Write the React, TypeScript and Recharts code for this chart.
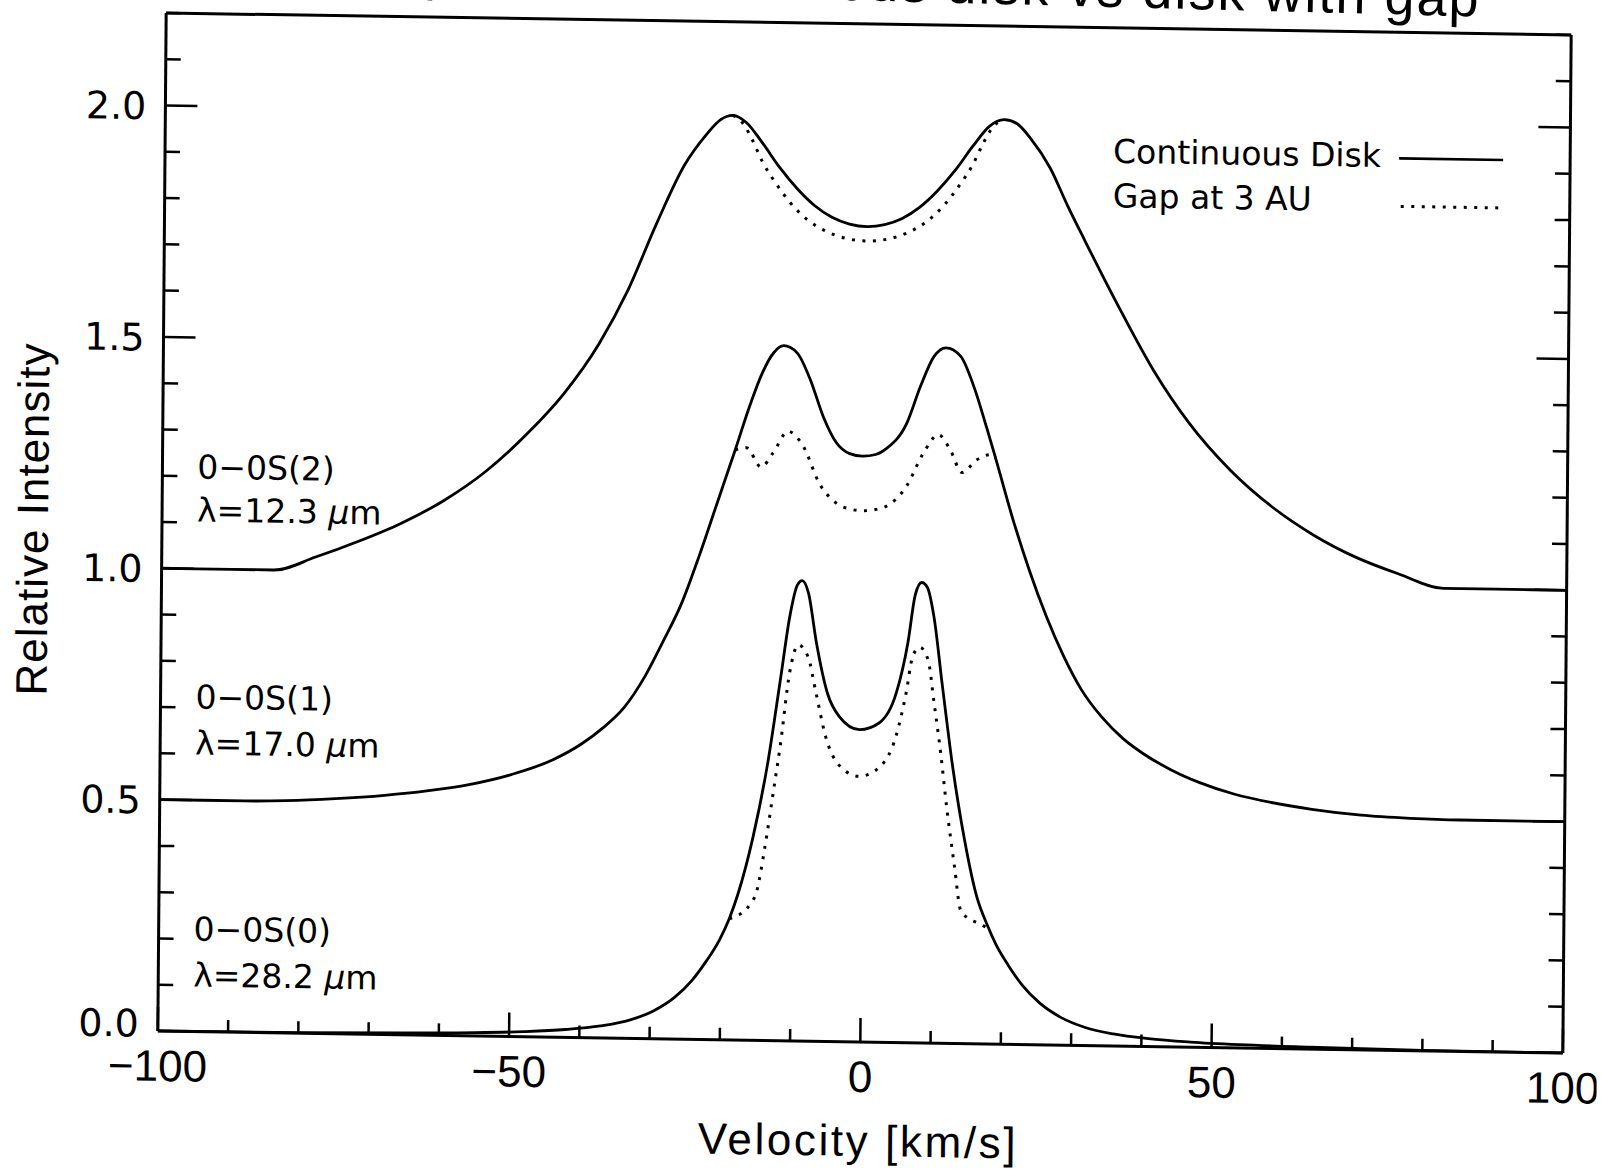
import React from "react";
import { LineChart, Line, XAxis, YAxis } from "recharts";

// [velocity km/s, relative intensity]
const s2Continuous = [
  [-100, 1.0], [-90, 1.0], [-84, 1.0], [-78, 1.03], [-72, 1.065], [-66, 1.105],
  [-60, 1.155], [-54, 1.22], [-48, 1.305], [-43, 1.39], [-38, 1.5], [-34, 1.615],
  [-30, 1.76], [-26, 1.89], [-23, 1.955], [-21, 1.988], [-19.2, 1.998],
  [-17.3, 1.983], [-15, 1.94], [-12.5, 1.887], [-10, 1.842], [-7.5, 1.806],
  [-5, 1.781], [-2.5, 1.767], [0, 1.762], [2.5, 1.767], [5, 1.781], [7.5, 1.806],
  [10, 1.842], [12.5, 1.887], [15, 1.94], [17.3, 1.983], [19.4, 1.998],
  [21.2, 1.99], [23.2, 1.958], [26, 1.895], [28.5, 1.815], [31, 1.74],
  [36, 1.595], [41, 1.46], [46, 1.35], [52, 1.248], [58, 1.17], [64, 1.11],
  [70, 1.064], [76, 1.03], [82.5, 1.0], [90, 1.0], [100, 1.0],
];
const s2Gap = [
  [-19.2, 1.998], [-18.3, 1.99], [-17.5, 1.975], [-16.5, 1.948], [-15, 1.9],
  [-13, 1.852], [-11, 1.812], [-8.5, 1.775], [-6, 1.752], [-3, 1.736],
  [0, 1.731], [3, 1.736], [6, 1.752], [8.5, 1.775], [11, 1.812], [13, 1.852],
  [15, 1.9], [16.5, 1.948], [17.5, 1.975], [18.5, 1.992], [19.4, 1.998],
];
const s1Continuous = [
  [-100, 0.5], [-88, 0.5], [-82, 0.502], [-75, 0.508], [-68, 0.517], [-62, 0.528],
  [-56, 0.543], [-50, 0.566], [-44, 0.6], [-40, 0.635], [-37, 0.67], [-34, 0.715],
  [-31, 0.785], [-28.5, 0.86], [-26, 0.94], [-23.5, 1.045], [-21, 1.16],
  [-18.5, 1.275], [-16.5, 1.37], [-14.8, 1.44], [-13.1, 1.487], [-11.7, 1.502],
  [-9.8, 1.487], [-7.9, 1.43], [-6, 1.35], [-4.1, 1.294], [-2.2, 1.271],
  [-0.4, 1.266], [1.5, 1.27], [3, 1.283], [5.9, 1.339], [7.8, 1.419],
  [9.7, 1.484], [11.4, 1.503], [13.5, 1.485], [15.4, 1.42], [17.3, 1.33],
  [18.5, 1.27], [21, 1.14], [23.5, 1.025], [26, 0.925], [28.5, 0.84], [31, 0.77],
  [34, 0.71], [37, 0.665], [40, 0.632], [44, 0.598], [48, 0.572], [53, 0.548],
  [58, 0.532], [64, 0.518], [71, 0.507], [78, 0.502], [85, 0.5], [100, 0.5],
];
const s1Gap = [
  [-18.5, 1.275], [-16.9, 1.28], [-14.8, 1.239], [-13.1, 1.27], [-11, 1.317],
  [-8.8, 1.285], [-6.5, 1.206], [-4.1, 1.164], [-2, 1.151], [-0.4, 1.148],
  [1.5, 1.151], [3, 1.158], [5.9, 1.202], [8.3, 1.275], [10.4, 1.315],
  [12.1, 1.283], [13.8, 1.234], [15.9, 1.262], [18, 1.274], [18.6, 1.266],
];
const s0Continuous = [
  [-100, 0], [-80, 0.001], [-65, 0.004], [-55, 0.007], [-48, 0.011], [-42, 0.017],
  [-37, 0.026], [-33, 0.039], [-29.5, 0.06], [-26.5, 0.09], [-24, 0.128],
  [-22, 0.17], [-20.2, 0.215], [-18.8, 0.262], [-17.6, 0.315], [-15.5, 0.44],
  [-13.5, 0.6], [-11.8, 0.78], [-10.5, 0.92], [-9.5, 0.985], [-8.8, 0.995],
  [-7.9, 0.968], [-6.7, 0.86], [-5.1, 0.753], [-3.4, 0.703], [-0.5, 0.675],
  [2.3, 0.69], [4.7, 0.755], [6.3, 0.864], [7.3, 0.968], [8.2, 0.995],
  [9, 0.985], [10, 0.92], [11.2, 0.78], [12.8, 0.6], [14.6, 0.44], [16.4, 0.318],
  [17.9, 0.258], [19.2, 0.215], [21, 0.17], [23, 0.128], [25.5, 0.09],
  [28.5, 0.06], [32, 0.039], [36, 0.026], [41, 0.017], [47, 0.011], [54, 0.007],
  [64, 0.004], [80, 0.001], [100, 0],
];
const s0Gap = [
  [-18.8, 0.262], [-17.8, 0.268], [-16.9, 0.276], [-15.8, 0.295], [-15, 0.318],
  [-13.8, 0.419], [-12.7, 0.535], [-11.7, 0.643], [-10.5, 0.795], [-9.3, 0.856],
  [-7.9, 0.831], [-6.7, 0.752], [-5.3, 0.659], [-3.2, 0.595], [-0.5, 0.574],
  [2.5, 0.596], [4.7, 0.661], [6.1, 0.755], [7, 0.835], [8, 0.855], [9.2, 0.828],
  [10.1, 0.735], [11.1, 0.627], [12, 0.512], [13.2, 0.382], [14.1, 0.289],
  [15.3, 0.27], [16.5, 0.262], [17.4, 0.255], [18.2, 0.248],
];

const xTicks = [-100, -90, -80, -70, -60, -50, -40, -30, -20, -10, 0, 10, 20, 30, 40, 50, 60, 70, 80, 90, 100];
const xMajorTicks = [-100, -50, 0, 50, 100];
const yTicks = [0, 0.1, 0.2, 0.3, 0.4, 0.5, 0.6, 0.7, 0.8, 0.9, 1.0, 1.1, 1.2, 1.3, 1.4, 1.5, 1.6, 1.7, 1.8, 1.9, 2.0, 2.1, 2.2];
const yMajorTicks = [0, 0.5, 1.0, 1.5, 2.0];

const lineNames = ["0−0S(2)", "0−0S(1)", "0−0S(0)"];
const lineWavelengths = ["12.3", "17.0", "28.2"];
const legendNames = ["Continuous Disk", "Gap at 3 AU"];
const title = "H₂ line profiles: continuous disk vs disk with gap";
const xTitle = "Velocity [km/s]";
const yTitle = "Relative Intensity";

const toPoints = (arr: number[][]) => arr.map(([v, i]) => ({ v, i }));

const SANS = "'Liberation Sans', Arial, sans-serif";
const DEJAVU = "'DejaVu Sans', sans-serif";
const DOTS = "3 7.5";

const fmtX = (v: number) => (v < 0 ? "\u2212" + Math.abs(v) : String(v));

function XTick(props: any) {
  const { x, y, payload, orientation } = props;
  const v = payload.value;
  const major = xMajorTicks.includes(v);
  const len = major ? 24 : 12;
  const dir = orientation === "top" ? 1 : -1;
  return (
    <g>
      <line x1={x} y1={y} x2={x} y2={y + dir * len} stroke="#000" strokeWidth={2.5} />
      {orientation !== "top" && major && (
        <text x={x} y={y + 50} textAnchor="middle" fontFamily={SANS} fontSize={44} fill="#000">
          {fmtX(v)}
        </text>
      )}
    </g>
  );
}

function YTick(props: any) {
  const { x, y, payload, orientation } = props;
  const v = payload.value;
  const major = yMajorTicks.includes(v);
  const len = major ? 32 : 15;
  const dir = orientation === "right" ? -1 : 1;
  // the lowest label sits a little higher in the original
  const lift = v === 0 ? 8 : 0;
  return (
    <g>
      <line x1={x} y1={y} x2={x + dir * len} y2={y} stroke="#000" strokeWidth={2.5} />
      {orientation !== "right" && major && (
        <text x={x - 19} y={y + 14 - lift} textAnchor="end" fontFamily={DEJAVU} fontSize={38} fill="#000">
          {v.toFixed(1)}
        </text>
      )}
    </g>
  );
}

const labelRows = [
  [489, 532],
  [719, 765],
  [951, 997],
];

export default function App() {
  const series = [
    { data: toPoints(s2Continuous), dotted: false },
    { data: toPoints(s2Gap), dotted: true },
    { data: toPoints(s1Continuous), dotted: false },
    { data: toPoints(s1Gap), dotted: true },
    { data: toPoints(s0Continuous), dotted: false },
    { data: toPoints(s0Gap), dotted: true },
  ];

  return (
    <div style={{ position: "absolute", left: 0, top: 0, width: 1601, height: 1171, overflow: "hidden", background: "#fff" }}>
      {/* the scanned original is slightly skewed; reproduce that on the whole plot */}
      <div
        style={{
          position: "absolute",
          left: 0,
          top: 0,
          width: 1601,
          height: 1171,
          transform: "matrix(1, 0.0157, -0.0082, 1, 0, 0)",
          transformOrigin: "864.5px 533px",
        }}
      >
        <LineChart width={1601} height={1171} margin={{ top: 14, right: 24, bottom: 69, left: 102 }}>
          <XAxis
            dataKey="v"
            type="number"
            domain={[-100, 100]}
            ticks={xTicks}
            interval={0}
            allowDataOverflow
            height={60}
            tickSize={0}
            tickMargin={0}
            tickLine={false}
            axisLine={{ stroke: "#000", strokeWidth: 3 }}
            tick={<XTick orientation="bottom" />}
          />
          <XAxis
            xAxisId="top"
            orientation="top"
            type="number"
            domain={[-100, 100]}
            ticks={xTicks}
            interval={0}
            allowDataOverflow
            height={10}
            tickSize={0}
            tickMargin={0}
            tickLine={false}
            axisLine={{ stroke: "#000", strokeWidth: 3 }}
            tick={<XTick orientation="top" />}
          />
          <YAxis
            type="number"
            domain={[0, 2.2]}
            ticks={yTicks}
            interval={0}
            allowDataOverflow
            width={60}
            tickSize={0}
            tickMargin={0}
            tickLine={false}
            axisLine={{ stroke: "#000", strokeWidth: 3 }}
            tick={<YTick orientation="left" />}
          />
          <YAxis
            yAxisId="right"
            orientation="right"
            type="number"
            domain={[0, 2.2]}
            ticks={yTicks}
            interval={0}
            allowDataOverflow
            width={10}
            tickSize={0}
            tickMargin={0}
            tickLine={false}
            axisLine={{ stroke: "#000", strokeWidth: 3 }}
            tick={<YTick orientation="right" />}
          />
          {series.map((s, idx) => (
            <Line
              key={idx}
              data={s.data}
              dataKey="i"
              type="monotone"
              stroke="#000"
              strokeWidth={s.dotted ? 3 : 2.8}
              strokeDasharray={s.dotted ? DOTS : undefined}
              dot={false}
              activeDot={false}
              isAnimationActive={false}
            />
          ))}
        </LineChart>

        <svg
          width={1601}
          height={1171}
          style={{ position: "absolute", left: 0, top: 0, overflow: "visible", pointerEvents: "none" }}
        >
          <text
            x={1476}
            y={7}
            transform="rotate(0.6, 1476, 7)"
            textAnchor="end"
            fontFamily={SANS}
            fontSize={54}
            letterSpacing={2}
            fill="#000"
          >
            {title}
          </text>
          <text
            x={48}
            y={532}
            transform="rotate(-90, 48, 532)"
            textAnchor="middle"
            fontFamily={SANS}
            fontSize={44}
            letterSpacing={1}
            fill="#000"
          >
            {yTitle}
          </text>
          <text x={863} y={1156} textAnchor="middle" fontFamily={SANS} fontSize={44} letterSpacing={2.6} fill="#000">
            {xTitle}
          </text>

          {lineNames.map((name, i) => (
            <g key={name}>
              <text x={197} y={labelRows[i][0]} fontFamily={DEJAVU} fontSize={33} fill="#000">
                {name}
              </text>
              <text x={197} y={labelRows[i][1]} fontFamily={DEJAVU} fontSize={33} fill="#000">
                {"λ=" + lineWavelengths[i] + " "}
                <tspan fontStyle="italic">μ</tspan>
                {"m"}
              </text>
            </g>
          ))}

          <text x={1110} y={159} fontFamily={DEJAVU} fontSize={33} fill="#000">
            {legendNames[0]}
          </text>
          <line x1={1396} y1={150} x2={1500} y2={150} stroke="#000" strokeWidth={2.6} />
          <text x={1110} y={203.5} fontFamily={DEJAVU} fontSize={33} fill="#000">
            {legendNames[1]}
          </text>
          <line x1={1398} y1={198} x2={1500} y2={198} stroke="#000" strokeWidth={3} strokeDasharray={DOTS} />
        </svg>
      </div>
    </div>
  );
}
